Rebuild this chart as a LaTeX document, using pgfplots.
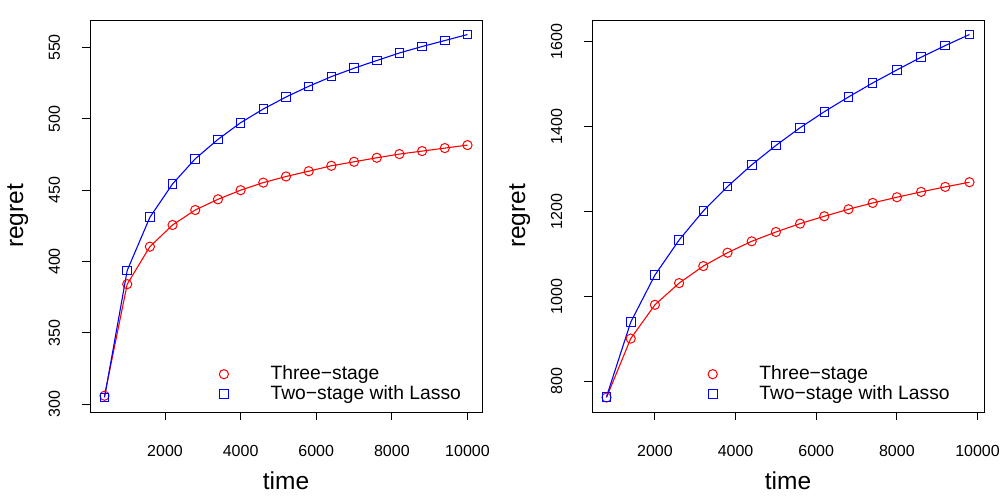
\documentclass[border=0pt]{standalone}
\usepackage{fontspec}
\setmainfont{Liberation Sans}
\usepackage{pgfplots}
\pgfplotsset{compat=1.18}
\definecolor{rred}{RGB}{255,0,0}
\definecolor{rblue}{RGB}{0,0,255}
\pgfplotsset{rstyle/.style={
  scale only axis, width=392bp, height=392bp,
  axis line style={line width=0.9bp},
  tick style={line width=0.9bp, black},
  tick align=outside, tick pos=left, major tick length=8bp,
  scaled x ticks=false, scaled y ticks=false,
  /pgf/number format/assume math mode=true,
  /pgf/number format/1000 sep={},
  ticklabel style={font=\fontsize{16bp}{16bp}\selectfont},
  xtick={2000,4000,6000,8000,10000},
  xticklabel style={anchor=north, inner sep=0pt, yshift=-25bp},
  yticklabel style={xshift=-22bp, rotate=90, anchor=base, inner sep=0pt},
  xlabel=time, ylabel=regret,
  label style={font=\fontsize{24.5bp}{24.5bp}\selectfont, inner sep=0pt},
  xlabel style={at={(axis description cs:0.5,0)}, anchor=base, yshift=-77bp},
  ylabel style={at={(axis description cs:-0.1709,0.5)}, anchor=base},
  legend style={draw=none, fill=none, anchor=north west, inner sep=0pt,
    nodes={inner sep=0pt, text height=14bp, text depth=4bp, font=\fontsize{19.3bp}{19.3bp}\selectfont},
    cells={anchor=west}, column sep=42bp, row sep=2bp},
  legend image code/.code={\draw[mark repeat=1,mark phase=1] plot coordinates {(0cm,0cm)};},
  redline/.style={rred, line width=1.1bp, mark=o, mark size=4.6bp, mark options={line width=1bp}},
  blueline/.style={rblue, line width=1.1bp, mark=square, mark size=4.3bp, mark options={line width=1bp}},
}}
\begin{document}
\begin{tikzpicture}
\path[use as bounding box] (0,0) rectangle (1004bp,502bp);
\begin{axis}[rstyle, at={(90bp,90bp)}, anchor=south west,
  xmin=16, xmax=10384, ymin=294.5, ymax=569.3,
  ytick={300,350,...,550},
  legend style={at={(axis description cs:0.3294,0.1199)}}]
\addplot[redline] coordinates {
(400,305.9) (1000,384.1) (1600,410.4) (2200,425.6) (2800,436.1) (3400,443.6)
(4000,450.0) (4600,455.3) (5200,459.6) (5800,463.3) (6400,467.1) (7000,469.9)
(7600,472.7) (8200,475.3) (8800,477.4) (9400,479.5) (10000,481.6)};
\addlegendentry{Three−stage}
\addplot[blueline] coordinates {
(400,304.7) (1000,393.7) (1600,431.0) (2200,454.4) (2800,472.0) (3400,485.6)
(4000,497.3) (4600,506.9) (5200,515.3) (5800,522.8) (6400,529.6) (7000,535.5)
(7600,540.9) (8200,546.2) (8800,550.7) (9400,554.9) (10000,559.1)};
\addlegendentry{Two−stage with Lasso}
\end{axis}
\begin{axis}[rstyle, at={(592bp,90bp)}, anchor=south west,
  xmin=440, xmax=10160, ymin=727.8, ymax=1650.9,
  ytick={800,1000,...,1600},
  legend style={at={(axis description cs:0.2957,0.1199)}}]
\addplot[redline] coordinates {
(800,762.0) (1400,900.7) (2000,980.2) (2600,1031.3) (3200,1071.4) (3800,1102.9)
(4400,1129.7) (5000,1151.7) (5600,1171.4) (6200,1188.7) (6800,1205.2) (7400,1220.1)
(8000,1233.5) (8600,1246.1) (9200,1257.9) (9800,1268.9)};
\addlegendentry{Three−stage}
\addplot[blueline] coordinates {
(800,763.8) (1400,939.3) (2000,1050.2) (2600,1132.8) (3200,1201.3) (3800,1258.7)
(4400,1309.8) (5000,1355.5) (5600,1397.2) (6200,1434.9) (6800,1469.6) (7400,1502.6)
(8000,1533.3) (8600,1563.2) (9200,1590.7) (9800,1616.7)};
\addlegendentry{Two−stage with Lasso}
\end{axis}
\end{tikzpicture}
\end{document}
